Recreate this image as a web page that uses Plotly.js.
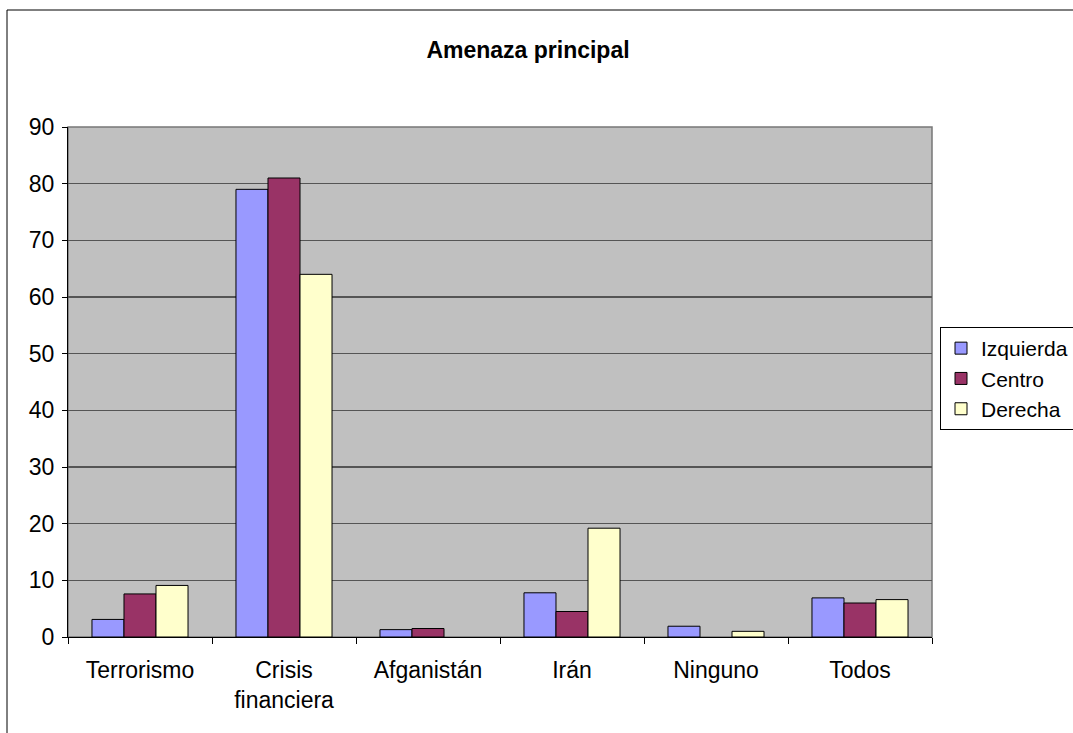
<!DOCTYPE html>
<html>
<head>
<meta charset="utf-8">
<script src="https://cdn.plot.ly/plotly-3.0.1.min.js"></script>
<style>
html,body{margin:0;padding:0;background:#fff;overflow:hidden;}
#chart{width:1073px;height:733px;}
</style>
</head>
<body>
<div id="chart"></div>
<script>
const categories = ["Terrorismo", "Crisis<br>financiera", "Afganistán", "Irán", "Ninguno", "Todos"];
const izquierda = [3.1, 79, 1.3, 7.8, 1.9, 6.9];
const centro = [7.6, 81, 1.5, 4.5, 0, 6.0];
const derecha = [9.1, 64, 0, 19.2, 1.0, 6.6];
const seriesNames = ["Izquierda", "Centro", "Derecha"];
const seriesColors = ["#9999FF", "#993366", "#FFFFCC"];
const yTicks = [0, 10, 20, 30, 40, 50, 60, 70, 80, 90];

const FONT = "Liberation Sans, Arial, sans-serif";
const allSeries = [izquierda, centro, derecha];
const traces = allSeries.map((vals, i) => ({
  type: "bar",
  x: categories,
  y: vals,
  name: seriesNames[i],
  marker: {color: seriesColors[i], line: {color: "#000", width: vals.map(v => v === 0 ? 0 : 1)}}
}));

const ml = 68, mt = 127, pw = 864, ph = 510;
const layout = {
  width: 1073, height: 733,
  margin: {l: ml, r: 1073 - ml - pw, t: mt, b: 733 - mt - ph, pad: 0},
  paper_bgcolor: "#fff",
  plot_bgcolor: "#C0C0C0",
  font: {family: FONT, size: 23, color: "#000"},
  title: {text: "<b>Amenaza principal</b>", x: 528/1073, xref: "container", xanchor: "center",
          y: 1 - 50/733, yref: "container", yanchor: "middle",
          font: {size: 23, family: FONT, color: "#000"}},
  barmode: "group",
  bargap: 0.333,
  bargroupgap: 0,
  showlegend: true,
  legend: {xref: "container", yref: "container", x: 940/1073, xanchor: "left", y: 1 - 327/733, yanchor: "top",
           bgcolor: "#fff", bordercolor: "#000", borderwidth: 1,
           font: {size: 21, family: FONT},
           itemwidth: 30, tracegroupgap: 0},
  xaxis: {type: "category", tickson: "boundaries", ticks: "outside", ticklen: 6, tickcolor: "#000",
          showline: true, linecolor: "#000", linewidth: 1, showgrid: false, zeroline: false,
          tickfont: {size: 23}, ticklabelstandoff: 12, fixedrange: true, automargin: false},
  yaxis: {range: [0, 90], tickvals: yTicks, ticktext: yTicks.map(String), ticks: "outside", ticklen: 5,
          tickcolor: "#000", showline: true, linecolor: "#000", linewidth: 1,
          showgrid: true, gridcolor: "#555", gridwidth: 1.5, zeroline: false,
          tickfont: {size: 23}, ticklabelstandoff: 3, fixedrange: true, automargin: false},
  shapes: [
    {type: "rect", xref: "paper", yref: "paper", x0: 0, x1: 1, y0: 0, y1: 1,
     line: {color: "#777", width: 1.5}, fillcolor: "rgba(0,0,0,0)", layer: "below"},
    {type: "rect", xref: "paper", yref: "paper",
     x0: (7 - ml)/pw, x1: (1090 - ml)/pw, y0: (mt + ph - 760)/ph, y1: (mt + ph - 10)/ph,
     line: {color: "#000", width: 1}, fillcolor: "rgba(0,0,0,0)"}
  ]
};

Plotly.newPlot("chart", traces, layout, {displayModeBar: false, staticPlot: true});
</script>
</body>
</html>
